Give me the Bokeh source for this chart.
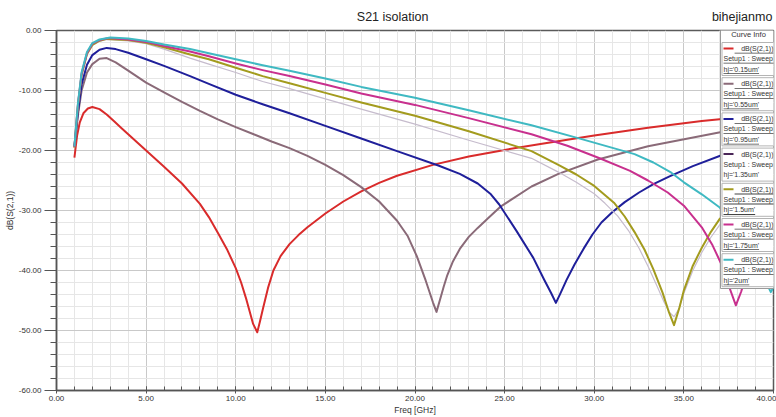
from bokeh.plotting import figure
from bokeh.models import (Range1d, SingleIntervalTicker, PrintfTickFormatter, Label, BoxAnnotation,
                          LinearAxis, FixedTicker)
from bokeh.embed import file_html
from bokeh.resources import INLINE

# ---------------- data ----------------
f_red = [1.0, 1.15, 1.3, 1.5, 1.75, 2.0, 2.4, 2.8, 3.2, 3.6, 4.0, 5.0, 6.0, 7.0, 8.0, 8.5, 9.0, 9.5, 10.0, 10.3,
         10.6, 10.97, 11.2, 11.35, 11.53, 11.8, 12.1, 12.5, 13.0, 13.5, 14.0, 15.0, 16.0, 17.0, 18.0, 19.0, 21.0,
         23.0, 25.0, 27.0, 30.0, 33.0, 36.0, 38.0, 40.0]
s_red = [-21.2, -17.5, -15.3, -13.8, -13.0, -12.75, -13.1, -14.0, -15.1, -16.2, -17.3, -20.0, -22.7, -25.5, -28.9,
         -31.1, -33.7, -36.4, -39.6, -42.0, -44.9, -48.9, -50.3, -48.5, -46.2, -42.9, -40.0, -37.6, -35.6, -34.1,
         -32.8, -30.5, -28.5, -26.8, -25.4, -24.2, -22.4, -21.0, -19.9, -18.9, -17.5, -16.2, -15.1, -14.5, -13.9]

f_mau = [1.0, 1.2, 1.4, 1.7, 2.0, 2.4, 2.8, 3.3, 4.0, 5.0, 6.0, 7.0, 8.0, 9.0, 10.0, 11.0, 12.0, 13.0, 14.0, 15.0,
         16.0, 17.0, 18.0, 19.0, 19.6, 20.1, 20.6, 21.0, 21.2, 21.45, 21.6, 21.8, 22.1, 22.5, 23.0, 23.5, 24.0,
         24.75, 26.5, 28.0, 30.2, 33.0, 37.1, 40.0]
s_mau = [-19.5, -14.0, -10.0, -7.0, -5.6, -4.7, -4.6, -5.3, -6.7, -8.7, -10.3, -11.9, -13.4, -14.8, -16.1, -17.3,
         -18.5, -19.6, -20.9, -22.4, -24.1, -26.1, -28.5, -31.7, -34.3, -37.6, -41.7, -45.3, -46.9, -44.3, -42.7,
         -40.8, -38.6, -36.4, -34.4, -32.9, -31.5, -29.4, -26.0, -23.9, -21.5, -19.3, -16.9, -15.9]

f_blu = [1.0, 1.2, 1.4, 1.7, 2.0, 2.4, 2.8, 3.3, 4.0, 5.0, 6.0, 7.45, 8.5, 10.0, 11.5, 13.0, 15.0, 17.0, 19.0,
         21.3, 22.5, 23.5, 24.2, 24.7, 25.66, 26.6, 27.2, 27.6, 27.86, 28.1, 28.45, 28.9, 29.4, 29.9, 30.4, 31.0,
         31.7, 32.5, 33.3, 34.2, 35.5, 37.1, 38.5, 40.0]
s_blu = [-19.3, -13.5, -9.0, -5.7, -4.1, -3.2, -2.9, -3.1, -3.7, -4.8, -5.9, -7.6, -8.9, -10.7, -12.3, -13.8,
         -15.9, -18.0, -20.1, -22.5, -23.9, -25.5, -27.2, -29.0, -33.4, -37.9, -41.5, -43.8, -45.4, -43.9, -41.6,
         -39.0, -36.4, -34.0, -32.0, -30.3, -28.6, -27.0, -25.6, -24.3, -22.6, -20.8, -19.7, -18.8]

f_lil = [1.0, 1.2, 1.4, 1.7, 2.0, 2.4, 2.8, 4.0, 5.0, 6.0, 7.45, 8.5, 10.0, 11.5, 13.0, 15.0, 17.0, 20.0, 23.0,
         26.5, 28.0, 29.0, 30.0, 30.6, 31.3, 31.9, 32.5, 33.0, 33.5, 33.9, 34.2, 34.45, 34.7, 35.0, 35.5, 36.0,
         36.5, 37.0, 38.0, 39.0, 40.0]
s_lil = [-19.5, -12.6, -7.6, -4.0, -2.5, -1.8, -1.5, -1.75, -2.2, -3.1, -4.6, -5.6, -7.0, -8.5, -9.7, -11.4, -13.1,
         -15.6, -18.3, -21.3, -23.6, -25.3, -27.2, -28.8, -30.9, -33.3, -36.3, -39.3, -42.6, -45.3, -47.0, -47.7,
         -46.5, -43.8, -40.0, -37.0, -34.5, -32.4, -29.3, -27.0, -25.2]

f_oli = [1.0, 1.2, 1.4, 1.7, 2.0, 2.4, 2.8, 4.0, 5.0, 6.0, 7.45, 8.5, 10.0, 11.5, 13.0, 15.0, 17.0, 20.0, 23.0,
         26.5, 28.0, 29.0, 30.0, 31.1, 31.7, 32.25, 32.8, 33.3, 33.8, 34.15, 34.45, 34.75, 35.0, 35.5, 36.0, 36.5,
         37.0, 38.0, 39.0, 40.0]
s_oli = [-19.5, -12.4, -7.4, -3.9, -2.4, -1.7, -1.4, -1.6, -2.05, -2.8, -4.0, -4.8, -6.2, -7.6, -8.8, -10.4, -12.0,
         -14.2, -16.8, -20.1, -22.4, -24.0, -25.9, -28.7, -31.0, -33.6, -36.5, -39.8, -43.6, -46.8, -49.1, -46.2,
         -43.3, -39.2, -36.2, -33.6, -31.4, -28.3, -26.0, -24.3]

f_mag = [1.0, 1.2, 1.4, 1.7, 2.0, 2.4, 2.9, 4.0, 5.0, 6.0, 7.45, 8.5, 10.0, 11.5, 13.0, 15.0, 17.0, 20.0, 23.0,
         26.5, 28.5, 30.3, 32.0, 33.0, 34.1, 35.0, 36.0, 36.6, 37.1, 37.5, 37.9, 38.2, 38.5, 39.0, 39.5, 40.0]
s_mag = [-19.4, -12.2, -7.2, -3.8, -2.2, -1.6, -1.25, -1.5, -1.9, -2.6, -3.5, -4.3, -5.5, -6.6, -7.6, -9.0, -10.5,
         -12.4, -14.6, -17.3, -19.2, -21.3, -23.4, -25.0, -27.0, -29.2, -32.8, -35.8, -39.0, -42.5, -45.8, -43.5,
         -40.5, -37.0, -34.0, -31.5]

f_cya = [1.0, 1.2, 1.4, 1.7, 2.0, 2.4, 3.0, 4.0, 5.0, 6.0, 7.45, 8.5, 10.0, 11.5, 13.0, 15.0, 17.0, 20.0, 23.0,
         26.5, 29.3, 32.25, 33.3, 34.3, 35.0, 36.0, 37.0, 37.5, 38.0, 38.5, 39.0, 39.4, 39.85, 40.0]
s_cya = [-19.3, -12.0, -7.0, -3.6, -2.1, -1.5, -1.15, -1.35, -1.75, -2.35, -3.1, -3.8, -4.8, -5.8, -6.7, -8.0,
         -9.4, -11.2, -13.3, -15.8, -18.1, -20.6, -22.0, -23.7, -25.3, -27.3, -29.5, -31.2, -33.2, -35.5, -38.2,
         -40.8, -43.6, -42.8]

labels = ["hj='0.15um'", "hj='0.55um'", "hj='0.95um'", "hj='1.35um'", "hj='1.5um'", "hj='1.75um'", "hj='2um'"]
title_text = "S21 isolation"
author_text = "bihejianmo"
x_label = "Freq [GHz]"
y_label = "dB(S(2,1))"
trace_label = "dB(S(2,1))"
setup_label = "Setup1 : Sweep"

series = [(f_red, s_red), (f_mau, s_mau), (f_blu, s_blu), (f_lil, s_lil), (f_oli, s_oli), (f_mag, s_mag),
          (f_cya, s_cya)]
line_colors = ["#d92b2b", "#8a6a78", "#1f1f9a", "#c6bccd", "#a39b1e", "#c8308e", "#3fb9c2"]
legend_colors = ["#d92b2b", "#8a6a78", "#1f1f9a", "#4a2658", "#a39b1e", "#c8308e", "#3fb9c2"]
line_widths = [2, 2, 2, 1.2, 2, 2, 2]

FONT = "Liberation Sans"
TXT = "#333333"

p = figure(width=776, height=417, output_backend="svg", toolbar_location=None, title=None,
           x_range=Range1d(0, 40), y_range=Range1d(-60, 0),
           min_border_left=56, min_border_right=3, min_border_top=30, min_border_bottom=27)
p.background_fill_color = "white"
p.border_fill_color = "white"
p.outline_line_color = "#5a5a5a"
p.outline_line_width = 1.5

xt = SingleIntervalTicker(interval=5, num_minor_ticks=5)
yt = SingleIntervalTicker(interval=10, num_minor_ticks=5)
p.xaxis.ticker = xt
p.yaxis.ticker = yt
p.xgrid.ticker = xt
p.ygrid.ticker = yt
for ax in (p.xaxis, p.yaxis):
    ax.formatter = PrintfTickFormatter(format="%.2f")
    ax.axis_line_color = "#555555"
    ax.axis_line_width = 1.5
    ax.major_tick_line_color = "#555555"
    ax.minor_tick_line_color = "#555555"
    ax.major_label_text_font = FONT
    ax.major_label_text_font_size = "8px"
    ax.major_label_text_color = TXT
    ax.axis_label_text_font = FONT
    ax.axis_label_text_font_size = "8.5px"
    ax.axis_label_text_font_style = "normal"
    ax.axis_label_text_color = TXT
    ax.axis_label_standoff = 1
p.xaxis.axis_label = x_label
p.yaxis.axis_label = y_label
p.yaxis.major_tick_out = 12
p.yaxis.major_tick_in = 0
p.yaxis.minor_tick_out = 6
p.yaxis.minor_tick_in = 0
p.yaxis.major_label_standoff = 3
p.xaxis.major_tick_out = 3
p.xaxis.major_tick_in = 4
p.xaxis.minor_tick_out = 0
p.xaxis.minor_tick_in = 4
p.xaxis.major_label_standoff = 2

for g in (p.xgrid, p.ygrid):
    g.grid_line_color = "#c9c9c9"
    g.grid_line_width = 1
    g.minor_grid_line_color = "#e6e6e6"
    g.minor_grid_line_width = 1

for (f, s), c, w in zip(series, line_colors, line_widths):
    p.line(f, s, line_color=c, line_width=w, line_join="round")

# ---------- helpers: pixel position -> data coordinate ----------
X0, X1, Y0, Y1 = 56.0, 773.0, 30.0, 390.0
def dx(px):
    return (px - X0) / (X1 - X0) * 40.0
def dy(py):
    return -(py - Y0) / (Y1 - Y0) * 60.0

# title line above the frame: an axis of the library carrying the two texts
t_pos, a_pos = 18.75, 38.25
top_ax = LinearAxis(ticker=FixedTicker(ticks=[t_pos, a_pos]),
                    major_label_overrides={t_pos: title_text, a_pos: author_text},
                    axis_line_color=None, major_tick_line_color=None, minor_tick_line_color=None,
                    major_label_text_font=FONT, major_label_text_font_size="12.5px",
                    major_label_text_color="#222222", major_label_standoff=1)
p.add_layout(top_ax, "above")

AW = {'h': .556, 'j': .222, "'": .191, '=': .584, '.': .278, 'u': .556, 'm': .833}
def text_w(t, size):
    return sum(AW.get(ch, .556) for ch in t) * size

def box(l, r, t, b, fill, line=None, lw=1):
    p.add_layout(BoxAnnotation(left=dx(l), right=dx(r), top=dy(t), bottom=dy(b), fill_color=fill, fill_alpha=1,
                               line_color=line, line_alpha=1 if line else 0, line_width=lw, level="overlay"))

def label(x, y, text, size=7.0, align="left", color=TXT):
    p.add_layout(Label(x=dx(x), y=dy(y), text=text, text_font=FONT, text_font_size=f"{size}px",
                       text_color=color, text_align=align, text_baseline="middle", level="overlay"))

# legend (Curve Info)
box(720, 779, 26, 288, "white", "#9a9a9a")
label(748, 33.5, "Curve Info", size=7.5, align="center")
for i, (lab, col) in enumerate(zip(labels, legend_colors)):
    ly = 48 + 35.2 * i
    box(721.5, 779, ly - 6, ly + 27, "white", "#b4b4b4")
    box(723, 733, ly - 1, ly + 1, col)
    label(773, ly, trace_label, align="right")
    label(723, ly + 10, setup_label)
    label(723, ly + 20.5, lab)
    if i != 3:
        box(773 - text_w(trace_label, 7), 773, ly + 4.3, ly + 5.1, "#444444")
        box(723, 723 + text_w(setup_label, 7), ly + 14.3, ly + 15.1, "#444444")
        box(723, 723 + text_w(lab, 7), ly + 24.8, ly + 25.6, "#444444")

open("out.html", "w").write(file_html(p, INLINE))
